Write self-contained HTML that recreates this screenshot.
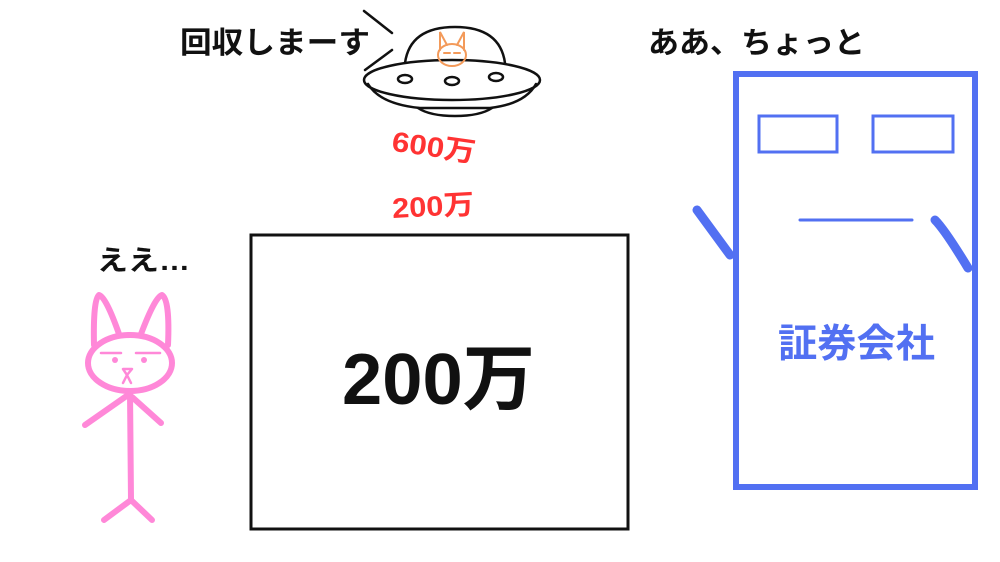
<!DOCTYPE html>
<html><head><meta charset="utf-8"><style>
html,body{margin:0;padding:0;background:#fff;width:1000px;height:562px;overflow:hidden}
text{font-family:"Liberation Sans","Noto Sans CJK JP",sans-serif;font-weight:bold}
</style></head><body>
<svg width="1000" height="562" viewBox="0 0 1000 562" xmlns="http://www.w3.org/2000/svg">
<rect width="1000" height="562" fill="#fff"/>
<text x="180" y="53" font-size="30" fill="#111" textLength="190" lengthAdjust="spacingAndGlyphs">回収しまーす</text>
<text x="648" y="53" font-size="30" fill="#111" textLength="217" lengthAdjust="spacingAndGlyphs">ああ、ちょっと</text>
<text x="97" y="270" font-size="28" fill="#111" textLength="93" lengthAdjust="spacingAndGlyphs">ええ…</text>
<text x="392" y="156" font-size="28" fill="#f33" transform="rotate(8 430 145)" textLength="84" lengthAdjust="spacingAndGlyphs">600万</text>
<text x="392" y="216" font-size="28" fill="#f33" transform="rotate(-3 430 205)" textLength="82" lengthAdjust="spacingAndGlyphs">200万</text>
<!-- UFO -->
<g fill="none" stroke="#111" stroke-width="2.5" stroke-linecap="round">
<line x1="364" y1="11" x2="392" y2="33"/>
<line x1="365" y1="70" x2="392" y2="50"/>
<path d="M405,63 Q410,27 455,27 Q500,27 505,63"/>
<ellipse cx="452" cy="80" rx="88" ry="20" fill="#fff"/>
<path d="M368,84 Q380,104 420,108 L490,108 Q525,104 536,84"/>
<path d="M418,108 Q430,116 455,116 Q480,116 492,108"/>
<ellipse cx="405" cy="79" rx="7" ry="4"/>
<ellipse cx="452" cy="81" rx="7" ry="4"/>
<ellipse cx="496" cy="77" rx="7" ry="4"/>
</g>
<g fill="none" stroke="#f39a5a" stroke-width="2" stroke-linecap="round">
<ellipse cx="452" cy="55" rx="14" ry="11"/>
<path d="M440,50 L440,32 L447,45 M464,50 L464,32 L457,45"/>
<path d="M444,53 h6 M454,53 h6"/>
</g>
<!-- box -->
<rect x="251" y="235" width="377" height="294" fill="none" stroke="#111" stroke-width="3"/>
<text x="342" y="404" font-size="72" fill="#111" textLength="193" lengthAdjust="spacingAndGlyphs">200万</text>
<!-- building -->
<g stroke="#5270f2" fill="none" stroke-linecap="round">
<rect x="736" y="74" width="239" height="413" stroke-width="6" stroke-linecap="butt"/>
<rect x="759" y="116" width="78" height="36" stroke-width="3"/>
<rect x="873" y="116" width="80" height="36" stroke-width="3"/>
<line x1="800" y1="220" x2="912" y2="220" stroke-width="3"/>
<path d="M697,210 L730,255" stroke-width="9"/>
<path d="M935,220 Q945,230 968,268" stroke-width="9"/>
</g>
<text x="778" y="357" font-size="39" fill="#5270f2" textLength="157" lengthAdjust="spacingAndGlyphs">証券会社</text>
<!-- cat -->
<g fill="none" stroke="#ff88d8" stroke-linecap="round" stroke-linejoin="round">
<g stroke-width="6">
<path d="M94,345 Q93,300 99,295 Q106,297 119,334"/>
<path d="M141,334 Q155,297 162,295 Q170,300 168,345"/>
<ellipse cx="130" cy="363" rx="42" ry="28" fill="#fff"/>
<path d="M130,392 L131,500"/>
<path d="M128,395 L85,425 M132,397 L161,423"/>
<path d="M131,500 L104,520 M131,500 L152,520"/>
</g>
<g stroke-width="2.5">
<path d="M101,353 h20 M136,353 h24"/>
<path d="M123,369 h9 l-5,6 z M127,375 l-4,8 M127,375 l4,8"/>
</g>
<circle cx="115" cy="360" r="3" fill="#ff88d8" stroke="none"/>
<circle cx="144" cy="360" r="3" fill="#ff88d8" stroke="none"/>
</g>
</svg>
</body></html>
